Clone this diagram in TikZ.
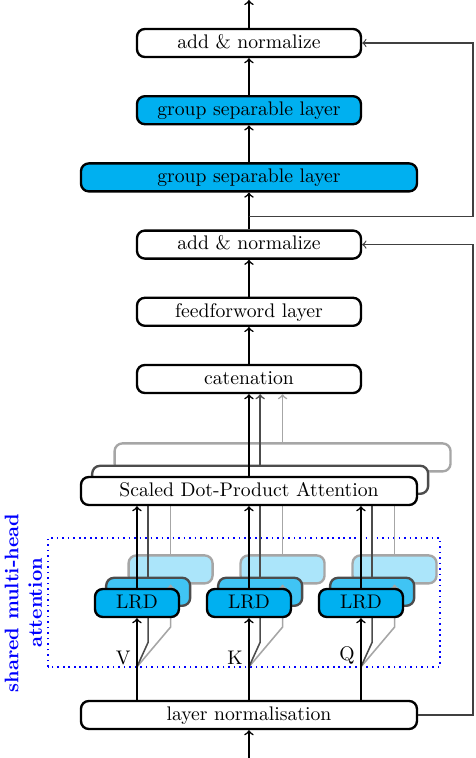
\documentclass[tikz,border=0pt]{standalone}
\definecolor{lrdblue}{RGB}{0,176,240}
\begin{document}
\begin{tikzpicture}

\tikzset{drawbox/.style={draw, line width=1.2pt, rectangle, rounded corners=4pt, fill=white, minimum height=0.5cm, minimum width=4cm, inner sep=2pt, text height=1.5ex, text depth=0.25ex}}
\tikzset{widebox/.style={drawbox, minimum width=6cm}}
\tikzset{lrdbox/.style={drawbox, minimum width=1.5cm, fill=lrdblue}}
\tikzset{flow/.style={->, thick}}
\tikzset{skipline/.style={->, semithick, black!75}}

\useasboundingbox (-4.446,-0.768) rectangle (4.054,12.768);

% shared multi-head attention frame
\draw[blue, thick, dotted] (-3.59,0.86) rectangle (3.41,3.16);
\node[rotate=90, align=center, text=blue, font=\bfseries] at (-4.03,2.0) (title) {shared multi-head\\attention};

% input and layer normalisation
\coordinate (input) at (0,-0.768);
\node[widebox] at (0,0) (ln) {layer normalisation};
\draw[flow] (input) -- (ln);
\foreach \h/\x in {V/-2, K/0, Q/2} {
  \coordinate (j\h) at (\x,0.86);
}

% heads, back layer
\node[widebox, draw=black!35] at (0.6,4.6) (sdpa3) {};
\foreach \h/\x in {V/-2, K/0, Q/2} {
  \node[lrdbox, draw=black!35, fill=lrdblue!33] at (\x+0.6,2.6) (lrd3\h) {};
  \draw[flow, black!35] (lrd3\h) -- (lrd3\h |- sdpa3.south);
}

% heads, middle layer
\node[widebox, draw=black!70] at (0.2,4.2) (sdpa2) {};
\foreach \h/\x in {V/-2, K/0, Q/2} {
  \node[lrdbox, draw=black!70, fill=lrdblue!75] at (\x+0.2,2.2) (lrd2\h) {};
  \draw[flow, black!35] (j\h) -- ++(0.6,0.71) -- (lrd3\h);
  \draw[flow, black!70] (j\h) -- ++(0.2,0.44) -- (lrd2\h);
  \draw[flow, black!70] (lrd2\h) -- (lrd2\h |- sdpa2.south);
}

% heads, front layer
\node[widebox] at (0,4) (sdpa1) {Scaled Dot-Product Attention};
\foreach \h/\x in {V/-2, K/0, Q/2} {
  \node[lrdbox] at (\x,2) (lrd1\h) {LRD};
  \draw[flow] (ln.north -| lrd1\h) -- (lrd1\h);
  \draw[flow] (lrd1\h) -- (lrd1\h |- sdpa1.south);
  \node[above left, inner sep=1pt, xshift=-2pt] at (j\h) (lbl\h) {\h};
}

% upper stack
\node[drawbox] at (0,6) (cat) {catenation};
\node[drawbox] at (0,7.2) (ffw) {feedforword layer};
\node[drawbox] at (0,8.4) (an1) {add \& normalize};
\node[widebox, fill=lrdblue] at (0,9.6) (gsl2) {group separable layer};
\node[drawbox, fill=lrdblue] at (0,10.8) (gsl1) {group separable layer};
\node[drawbox] at (0,12) (an2) {add \& normalize};
\coordinate (output) at (0,12.768);

\draw[flow, black!35] (sdpa3.north) -- (sdpa3.north |- cat.south);
\draw[flow, black!70] (sdpa2.north) -- (sdpa2.north |- cat.south);
\draw[flow] (sdpa1.north) -- (cat.south);
\draw[flow] (cat) -- (ffw);
\draw[flow] (ffw) -- (an1);
\draw[flow] (an1) -- (gsl2);
\draw[flow] (gsl2) -- (gsl1);
\draw[flow] (gsl1) -- (an2);
\draw[flow] (an2) -- (output);

% residual connections
\coordinate (skipA) at (4,0);
\draw[skipline] (ln.east) -- (skipA) |- (an1.east);
\coordinate (branch) at (0,8.9);
\coordinate (skipB) at (4,8.9);
\draw[skipline] (branch) -- (skipB) |- (an2.east);

\end{tikzpicture}
\end{document}
